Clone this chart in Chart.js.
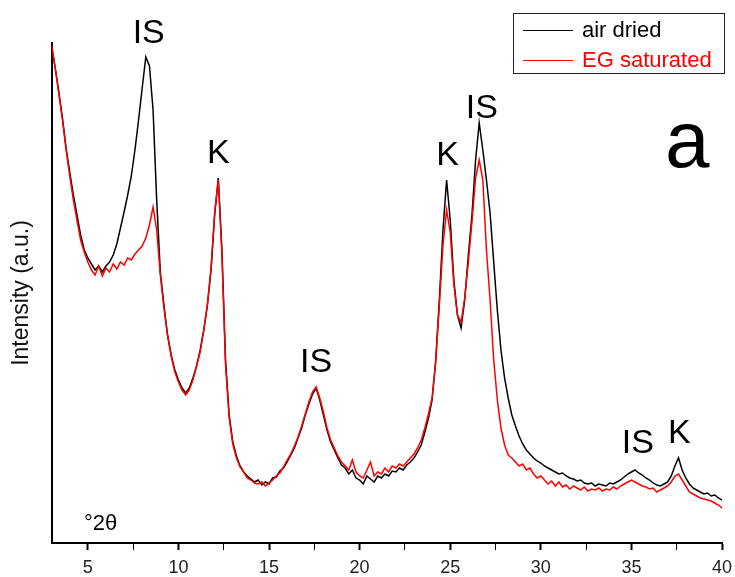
<!DOCTYPE html>
<html>
<head>
<meta charset="utf-8">
<script src="https://cdn.jsdelivr.net/npm/chart.js@4.4.1/dist/chart.umd.min.js"></script>
<style>
  html, body { margin: 0; padding: 0; background: #fff; }
  #wrap { width: 735px; height: 577px; }
</style>
</head>
<body>
<div id="wrap"><canvas id="xrdChart" width="735" height="577"></canvas></div>
<script>
// diffraction angle, degrees 2-theta
var angles = [
  3.0, 3.2, 3.4, 3.6, 3.8, 4.0, 4.2, 4.4, 4.6, 4.8,
  5.0, 5.2, 5.4, 5.6, 5.8, 6.0, 6.2, 6.4, 6.6, 6.8,
  7.0, 7.2, 7.4, 7.6, 7.8, 8.0, 8.2, 8.4, 8.6, 8.8,
  9.0, 9.2, 9.4, 9.6, 9.8, 10.0, 10.2, 10.4, 10.6, 10.8,
  11.0, 11.2, 11.4, 11.6, 11.8, 12.0, 12.2, 12.4, 12.6, 12.8,
  13.0, 13.2, 13.4, 13.6, 13.8, 14.0, 14.2, 14.4, 14.6, 14.8,
  15.0, 15.2, 15.4, 15.6, 15.8, 16.0, 16.2, 16.4, 16.6, 16.8,
  17.0, 17.2, 17.4, 17.6, 17.8, 18.0, 18.2, 18.4, 18.6, 18.8,
  19.0, 19.2, 19.4, 19.6, 19.8, 20.0, 20.2, 20.4, 20.6, 20.8,
  21.0, 21.2, 21.4, 21.6, 21.8, 22.0, 22.2, 22.4, 22.6, 22.8,
  23.0, 23.2, 23.4, 23.6, 23.8, 24.0, 24.2, 24.4, 24.6, 24.8,
  25.0, 25.2, 25.4, 25.6, 25.8, 26.0, 26.2, 26.4, 26.6, 26.8,
  27.0, 27.2, 27.4, 27.6, 27.8, 28.0, 28.2, 28.4, 28.6, 28.8,
  29.0, 29.2, 29.4, 29.6, 29.8, 30.0, 30.2, 30.4, 30.6, 30.8,
  31.0, 31.2, 31.4, 31.6, 31.8, 32.0, 32.2, 32.4, 32.6, 32.8,
  33.0, 33.2, 33.4, 33.6, 33.8, 34.0, 34.2, 34.4, 34.6, 34.8,
  35.0, 35.2, 35.4, 35.6, 35.8, 36.0, 36.2, 36.4, 36.6, 36.8,
  37.0, 37.2, 37.4, 37.6, 37.8, 38.0, 38.2, 38.4, 38.6, 38.8,
  39.0, 39.2, 39.4, 39.6, 39.8, 40.0
];

// intensity (a.u.), air dried sample
var airDried = [
  498, 475, 451, 425, 395, 371, 348, 328, 308, 293,
  285, 279, 273, 277, 271, 277, 281, 288, 299, 315,
  331, 348, 367, 393, 423, 455, 486, 477, 433, 343,
  271, 238, 208, 188, 173, 163, 155, 150, 155, 165,
  177, 193, 213, 238, 273, 328, 365, 293, 183, 128,
  101, 87, 77, 71, 67, 64, 61, 63, 58, 61,
  59, 65, 66, 72, 75, 81, 88, 95, 105, 115,
  128, 139, 149, 155, 143, 128, 113, 101, 93, 85,
  78, 75, 69, 73, 65, 63, 59, 67, 64, 61,
  67, 65, 69, 67, 72, 71, 75, 73, 78, 81,
  85, 91, 98, 111, 125, 143, 183, 243, 313, 363,
  323, 263, 228, 215, 243, 288, 328, 383, 420, 393,
  363, 330, 281, 233, 193, 165, 145, 128, 117, 107,
  99, 93, 89, 85, 82, 80, 77, 75, 73, 71,
  69, 70, 67, 65, 64, 62, 63, 60, 59, 60,
  57, 59, 58, 57, 60, 59, 61, 63, 66, 69,
  71, 73, 70, 68, 65, 63, 60, 58, 57, 59,
  61, 67, 77, 85, 73, 65, 59, 55, 53, 51,
  49, 50, 47, 48, 45, 43
];

// intensity (a.u.), ethylene glycol saturated sample
var egSaturated = [
  498, 475, 449, 423, 393, 367, 343, 323, 303, 291,
  281, 273, 268, 277, 267, 275, 271, 279, 274, 281,
  278, 285, 283, 289, 293, 297, 305, 318, 336, 313,
  268, 235, 207, 187, 171, 161, 153, 148, 153, 163,
  177, 191, 213, 239, 275, 331, 363, 288, 178, 125,
  99, 85, 76, 71, 65, 63, 60, 59, 61, 57,
  60, 63, 67, 70, 76, 83, 89, 97, 106, 117,
  129, 141, 151, 156, 145, 131, 115, 103, 95, 87,
  81, 77, 73, 83, 71, 67, 65, 73, 81, 67,
  71, 69, 75, 71, 77, 75, 79, 77, 81, 85,
  89, 95, 103, 115, 129, 145, 181, 238, 298, 333,
  311, 258, 228, 221, 245, 281, 321, 365, 383, 363,
  293, 243, 183, 143, 115, 98, 88, 85, 81, 77,
  79, 73, 75, 69, 65, 67, 63, 59, 62, 57,
  61, 56, 58, 54, 57, 55, 53, 56, 52, 54,
  53, 55, 52, 54, 53, 56, 54, 57, 59, 61,
  63, 61, 59, 57, 56, 54, 55, 51, 53, 55,
  57, 61, 67, 69, 63, 57, 51, 49, 47, 45,
  44, 43, 42, 40, 38, 35
];

// x axis ticks: labelled every 5 degrees, small ticks in between
var tickValues = [5, 7.5, 10, 12.5, 15, 17.5, 20, 22.5, 25, 27.5, 30, 32.5, 35, 37.5, 40];

// peak labels (IS = illite-smectite, K = kaolinite) with the text baseline
var peakNames = ['IS', 'K', 'IS', 'K', 'IS', 'IS', 'K'];
var peakAngles = [8.36, 12.2, 17.6, 24.85, 26.74, 35.35, 37.64];
var peakLevels = [500, 380, 171, 378, 425, 90, 100];

function toPoints(xs, ys) {
    return xs.map(function (x, i) { return { x: x, y: ys[i] }; });
}

// text placed on the plot (peak names, panel letter, unit)
var chartText = {
    id: 'chartText',
    afterDatasetsDraw: function (chart) {
        var ctx = chart.ctx;
        var xs = chart.scales.x, ys = chart.scales.y;
        ctx.save();
        ctx.fillStyle = '#000';
        ctx.textAlign = 'center';
        ctx.textBaseline = 'alphabetic';
        ctx.font = '34px "Liberation Sans", Arial, sans-serif';
        for (var i = 0; i < peakNames.length; i++) {
            ctx.fillText(peakNames[i], xs.getPixelForValue(peakAngles[i]), ys.getPixelForValue(peakLevels[i]));
        }
        ctx.font = '80px "Liberation Sans", Arial, sans-serif';
        ctx.fillText('a', xs.getPixelForValue(38.08), ys.getPixelForValue(376));
        ctx.font = '22px "Liberation Sans", Arial, sans-serif';
        ctx.fillText('°2θ', xs.getPixelForValue(5.7), ys.getPixelForValue(13));
        ctx.restore();
    }
};

// boxed legend in the top right corner
var boxLegend = {
    id: 'boxLegend',
    afterDraw: function (chart) {
        var ctx = chart.ctx;
        ctx.save();
        ctx.strokeStyle = '#222';
        ctx.lineWidth = 1;
        ctx.strokeRect(513.5, 13.5, 211, 60);
        ctx.font = '22px "Liberation Sans", Arial, sans-serif';
        ctx.textAlign = 'left';
        ctx.textBaseline = 'middle';
        chart.data.datasets.forEach(function (ds, i) {
            var y = 30 + i * 30;
            ctx.strokeStyle = ds.borderColor;
            ctx.beginPath();
            ctx.moveTo(523, y + 0.5);
            ctx.lineTo(573, y + 0.5);
            ctx.stroke();
            ctx.fillStyle = ds.borderColor;
            ctx.fillText(ds.label, 582, y + 1);
        });
        ctx.restore();
    }
};

var ctx = document.getElementById('xrdChart').getContext('2d');

var xrdChart = new Chart(ctx, {
    type: 'line',
    data: {
        datasets: [{
            label: 'air dried',
            data: toPoints(angles, airDried),
            borderColor: '#000000',
            borderWidth: 1.5,
            pointRadius: 0,
            tension: 0,
            order: 1
        }, {
            label: 'EG saturated',
            data: toPoints(angles, egSaturated),
            borderColor: '#ff0000',
            borderWidth: 1.5,
            pointRadius: 0,
            tension: 0,
            order: 0
        }]
    },
    options: {
        responsive: false,
        animation: false,
        layout: { padding: { left: 4, top: 43, right: 13, bottom: 0 } },
        plugins: {
            legend: { display: false },
            tooltip: { enabled: false }
        },
        scales: {
            x: {
                type: 'linear',
                min: 3,
                max: 40,
                afterBuildTicks: function (scale) {
                    scale.ticks = tickValues.map(function (v) { return { value: v }; });
                },
                afterFit: function (scale) {
                    scale.height = 34;
                    scale.paddingLeft = 0;
                    scale.paddingRight = 0;
                },
                ticks: {
                    autoSkip: false,
                    maxRotation: 0,
                    padding: 9,
                    color: '#222',
                    font: { family: '"Liberation Sans", Arial, sans-serif', size: 18, lineHeight: 1 },
                    callback: function (value) { return value % 5 === 0 ? value : ''; }
                },
                grid: {
                    drawOnChartArea: false,
                    drawTicks: true,
                    tickLength: 7,
                    tickColor: '#000',
                    tickWidth: function (c) { return c.tick && c.tick.value % 5 === 0 ? 2 : 1; }
                },
                border: { display: true, color: '#000', width: 2 }
            },
            y: {
                min: 0,
                max: 500,
                ticks: { display: false },
                grid: { display: false },
                border: { display: true, color: '#000', width: 2 },
                title: {
                    display: true,
                    text: 'Intensity (a.u.)',
                    color: '#111',
                    font: { family: '"Liberation Sans", Arial, sans-serif', size: 23 },
                    padding: { top: 4, bottom: 8 }
                }
            }
        }
    },
    plugins: [chartText, boxLegend]
});
</script>
</body>
</html>
